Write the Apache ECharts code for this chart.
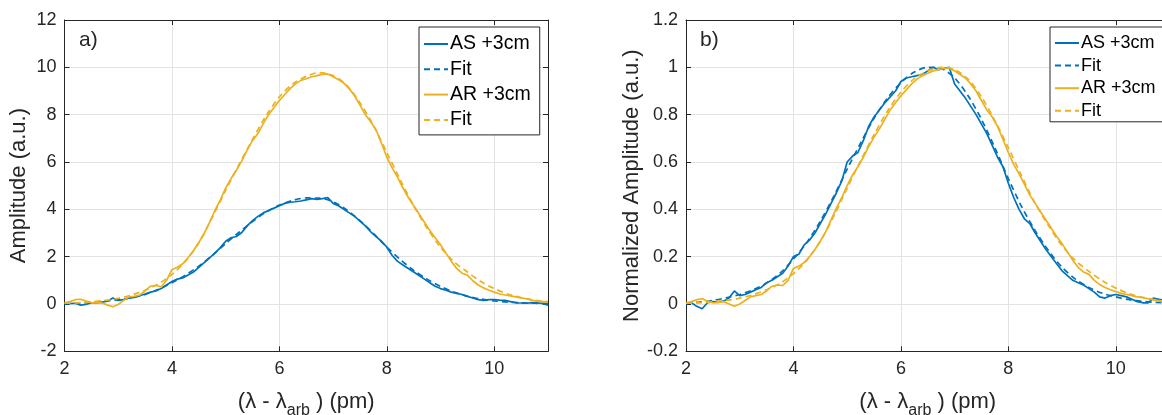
<!DOCTYPE html>
<html>
<head>
<meta charset="utf-8">
<script src="https://cdn.jsdelivr.net/npm/echarts@6/dist/echarts.min.js"></script>
<style>
html,body{margin:0;padding:0;background:#fff;}
#chart{width:1162px;height:415px;}
</style>
</head>
<body>
<div id="chart"></div>
<script>
// ---- data ----
const xData = [2.0,2.1,2.2,2.3,2.4,2.5,2.6,2.7,2.8,2.9,3.0,3.1,3.2,3.3,3.4,3.5,3.6,3.7,3.8,3.9,
  4.0,4.1,4.2,4.3,4.4,4.5,4.6,4.7,4.8,4.9,5.0,5.1,5.2,5.3,5.4,5.5,5.6,5.7,5.8,5.9,
  6.0,6.1,6.2,6.3,6.4,6.5,6.6,6.7,6.8,6.9,7.0,7.1,7.2,7.3,7.4,7.5,7.6,7.7,7.8,7.9,
  8.0,8.1,8.2,8.3,8.4,8.5,8.6,8.7,8.8,8.9,9.0,9.1,9.2,9.3,9.4,9.5,9.6,9.7,9.8,9.9,
  10.0,10.1,10.2,10.3,10.4,10.5,10.6,10.7,10.8,10.9,11.0];
const xFit = [2.0,2.25,2.5,2.75,3.0,3.25,3.5,3.75,4.0,4.25,4.5,4.75,5.0,5.25,5.5,5.75,6.0,6.25,6.5,6.75,
  7.0,7.25,7.5,7.75,8.0,8.25,8.5,8.75,9.0,9.25,9.5,9.75,10.0,10.25,10.5,10.75,11.0];

// panel a) raw amplitude
const asRaw = [0.00,0.02,0.03,-0.05,-0.02,0.05,0.04,0.08,0.12,0.25,0.15,0.18,0.25,0.28,0.35,0.42,0.50,0.55,0.65,0.80,
  0.95,1.05,1.10,1.22,1.35,1.55,1.75,1.95,2.15,2.38,2.65,2.80,2.85,3.02,3.30,3.52,3.70,3.85,3.95,4.05,
  4.15,4.25,4.30,4.32,4.35,4.40,4.45,4.42,4.45,4.50,4.25,4.15,4.00,3.85,3.70,3.50,3.30,3.05,2.85,2.65,
  2.40,2.05,1.80,1.65,1.50,1.35,1.20,1.05,0.90,0.75,0.65,0.58,0.50,0.45,0.40,0.32,0.25,0.18,0.15,0.18,
  0.18,0.16,0.15,0.10,0.05,0.04,0.03,0.06,0.05,0.02,-0.05];
const arRaw = [0.05,0.10,0.18,0.20,0.12,0.05,0.06,0.04,-0.05,-0.12,-0.02,0.15,0.30,0.32,0.38,0.55,0.75,0.78,0.72,1.00,
  1.45,1.55,1.70,1.95,2.25,2.60,2.98,3.45,3.95,4.40,4.90,5.30,5.65,6.05,6.50,6.90,7.20,7.62,8.00,8.30,
  8.60,8.85,9.10,9.30,9.45,9.52,9.60,9.65,9.70,9.72,9.60,9.48,9.33,9.10,8.80,8.40,8.00,7.70,7.35,6.80,
  6.20,5.75,5.35,4.90,4.50,4.15,3.80,3.45,3.10,2.80,2.50,2.15,1.80,1.50,1.30,1.22,0.98,0.80,0.68,0.58,
  0.50,0.42,0.38,0.34,0.30,0.26,0.22,0.16,0.12,0.10,0.08];
const asRawFit = [0.02,0.04,0.07,0.12,0.18,0.27,0.40,0.62,0.90,1.22,1.60,2.05,2.55,3.03,3.48,3.88,4.18,4.38,4.48,4.47,
  4.32,3.98,3.52,2.98,2.40,1.88,1.42,1.05,0.74,0.50,0.33,0.21,0.13,0.08,0.05,0.03,0.02];
const arRawFit = [0.03,0.05,0.09,0.15,0.24,0.38,0.58,0.85,1.25,1.80,2.58,3.65,4.80,5.90,6.95,7.95,8.75,9.30,9.62,9.78,
  9.65,9.25,8.50,7.55,6.40,5.25,4.15,3.20,2.40,1.78,1.35,0.95,0.65,0.42,0.27,0.16,0.10];

// panel b) normalized amplitude
const asNorm = [0.000,0.005,-0.010,-0.020,0.005,0.010,0.008,0.012,0.025,0.055,0.035,0.040,0.050,0.060,0.070,0.090,0.100,0.115,0.130,0.160,
  0.200,0.210,0.250,0.270,0.300,0.340,0.380,0.425,0.470,0.520,0.600,0.625,0.640,0.690,0.750,0.790,0.820,0.850,0.875,0.900,
  0.940,0.955,0.960,0.965,0.970,0.985,1.000,0.990,0.995,1.000,0.930,0.900,0.870,0.835,0.800,0.760,0.720,0.670,0.620,0.580,
  0.510,0.450,0.400,0.360,0.340,0.300,0.265,0.230,0.200,0.170,0.140,0.120,0.100,0.090,0.080,0.065,0.050,0.030,0.025,0.035,
  0.040,0.035,0.030,0.020,0.010,0.005,0.005,0.025,0.020,0.015,0.010];
const arNorm = [0.005,0.010,0.018,0.022,0.012,0.005,0.006,0.010,0.000,-0.010,0.000,0.015,0.030,0.035,0.040,0.055,0.075,0.080,0.078,0.100,
  0.150,0.160,0.175,0.200,0.230,0.265,0.305,0.355,0.405,0.450,0.500,0.545,0.580,0.620,0.665,0.705,0.740,0.780,0.820,0.850,
  0.880,0.905,0.930,0.950,0.965,0.975,0.985,0.990,0.995,0.997,0.985,0.970,0.955,0.930,0.900,0.860,0.820,0.790,0.750,0.695,
  0.640,0.590,0.550,0.505,0.460,0.425,0.390,0.355,0.320,0.285,0.255,0.220,0.185,0.155,0.135,0.125,0.100,0.082,0.070,0.060,
  0.052,0.045,0.040,0.035,0.030,0.027,0.022,0.017,0.012,0.010,0.008];
const asNormFit = [0.004,0.008,0.015,0.026,0.040,0.060,0.088,0.130,0.19,0.26,0.35,0.455,0.57,0.68,0.785,0.87,0.935,0.98,1.0,0.995,
  0.955,0.88,0.78,0.66,0.53,0.41,0.31,0.225,0.155,0.105,0.07,0.045,0.03,0.018,0.011,0.007,0.004];
const arNormFit = [0.003,0.005,0.009,0.015,0.025,0.039,0.06,0.087,0.128,0.185,0.265,0.37,0.49,0.605,0.715,0.815,0.895,0.952,0.985,1.0,
  0.99,0.95,0.875,0.775,0.66,0.54,0.425,0.33,0.246,0.183,0.138,0.098,0.067,0.043,0.028,0.017,0.010];

const seriesNames = ['AS +3cm', 'Fit', 'AR +3cm', 'Fit '];
const panelLabels = ['a)', 'b)'];
const yTitles = ['Amplitude (a.u.)', 'Normalized Amplitude (a.u.)'];
const xTitle = '(λ - λ{sub|arb} ) (pm)';

// ---- styling ----
const BLUE = '#0072BD';
const GOLD = '#EDB120';
const AX = '#262626';
const GRIDC = '#e3e3e3';
const FONT = '"Liberation Sans", Arial, Helvetica, sans-serif';

function pairs(xs, ys) { return xs.map((x, i) => [x, ys[i]]); }

const chart = echarts.init(document.getElementById('chart'), null, {renderer: 'canvas'});

const grids = [
  {left: 64.5, top: 20, width: 483.5, height: 331.3, containLabel: false, outerBoundsMode: 'none'},
  {left: 686, top: 20, width: 483.5, height: 331.3, containLabel: false, outerBoundsMode: 'none'}
];
const yRanges = [{min: -2, max: 12, interval: 2}, {min: -0.2, max: 1.2, interval: 0.2}];

const xAxes = [], yAxes = [];
grids.forEach((g, i) => {
  xAxes.push({
    type: 'value', gridIndex: i, min: 2, max: 11, interval: 2, position: 'bottom',
    name: xTitle, nameLocation: 'middle', nameGap: 35,
    nameTextStyle: {fontFamily: FONT, fontSize: 22, color: AX,
      rich: {sub: {fontFamily: FONT, fontSize: 16, color: AX, padding: [16, 0, 0, 0]}}},
    axisLine: {show: true, onZero: false, lineStyle: {color: AX, width: 1}},
    axisTick: {show: true, inside: true, length: 5, lineStyle: {color: AX}},
    axisLabel: {show: true, fontFamily: FONT, fontSize: 18, color: AX, margin: 9, showMaxLabel: false},
    splitLine: {show: true, lineStyle: {color: GRIDC, width: 1}}
  });
  xAxes.push({
    type: 'value', gridIndex: i, min: 2, max: 11, interval: 2, position: 'top',
    axisLine: {show: true, onZero: false, lineStyle: {color: AX, width: 1}},
    axisTick: {show: true, inside: true, length: 5, lineStyle: {color: AX}},
    axisLabel: {show: false}, splitLine: {show: false}
  });
  yAxes.push({
    type: 'value', gridIndex: i, min: yRanges[i].min, max: yRanges[i].max, interval: yRanges[i].interval,
    position: 'left',
    name: yTitles[i], nameLocation: 'middle', nameGap: i === 0 ? 35 : 41, nameRotate: 90,
    nameTextStyle: {fontFamily: FONT, fontSize: 22, color: AX},
    axisLine: {show: true, onZero: false, lineStyle: {color: AX, width: 1}},
    axisTick: {show: true, inside: true, length: 5, lineStyle: {color: AX}},
    axisLabel: {show: true, fontFamily: FONT, fontSize: 18, color: AX, margin: 8},
    splitLine: {show: true, lineStyle: {color: GRIDC, width: 1}}
  });
  yAxes.push({
    type: 'value', gridIndex: i, min: yRanges[i].min, max: yRanges[i].max, interval: yRanges[i].interval,
    position: 'right',
    axisLine: {show: true, onZero: false, lineStyle: {color: AX, width: 1}},
    axisTick: {show: true, inside: true, length: 5, lineStyle: {color: AX}},
    axisLabel: {show: false}, splitLine: {show: false}
  });
});

const panelData = [
  [pairs(xData, asRaw), pairs(xFit, asRawFit), pairs(xData, arRaw), pairs(xFit, arRawFit)],
  [pairs(xData, asNorm), pairs(xFit, asNormFit), pairs(xData, arNorm), pairs(xFit, arNormFit)]
];
const colors = [BLUE, BLUE, GOLD, GOLD];
const dashed = [false, true, false, true];

const series = [];
panelData.forEach((sets, p) => {
  sets.forEach((d, k) => {
    series.push({
      type: 'line', name: seriesNames[k], xAxisIndex: p * 2, yAxisIndex: p * 2,
      data: d, symbol: 'none', showSymbol: false, smooth: dashed[k] ? 0.3 : false,
      lineStyle: {color: colors[k], width: 1.7, type: dashed[k] ? [6, 4] : 'solid'},
      itemStyle: {color: colors[k]},
      emphasis: {disabled: true}, animation: false
    });
  });
});

const legendBase = {
  orient: 'vertical', data: seriesNames, itemWidth: 24, itemHeight: 14,
  borderColor: AX, borderWidth: 1, backgroundColor: '#fff', borderRadius: 0,
  selectedMode: false,
  itemStyle: {opacity: 0},
  formatter: n => n.trim()
};

chart.setOption({
  animation: false,
  backgroundColor: '#fff',
  grid: grids,
  xAxis: xAxes,
  yAxis: yAxes,
  legend: [
    Object.assign({}, legendBase, {left: 419, top: 27, itemGap: 5.3, padding: [7, 9, 5, 4],
      textStyle: {fontFamily: FONT, fontSize: 19.5, color: '#000', padding: [0, 0, 0, -3]}}),
    Object.assign({}, legendBase, {left: 1050, top: 27, itemGap: 4.6, padding: [7, 7, 2, 4],
      textStyle: {fontFamily: FONT, fontSize: 18, color: '#000', padding: [0, 0, 0, -3]}})
  ],
  graphic: [
    {type: 'text', left: 79, top: 30, style: {text: panelLabels[0], font: '21px ' + FONT, fill: AX}},
    {type: 'text', left: 700, top: 30, style: {text: panelLabels[1], font: '21px ' + FONT, fill: AX}}
  ],
  series: series
});
</script>
</body>
</html>
